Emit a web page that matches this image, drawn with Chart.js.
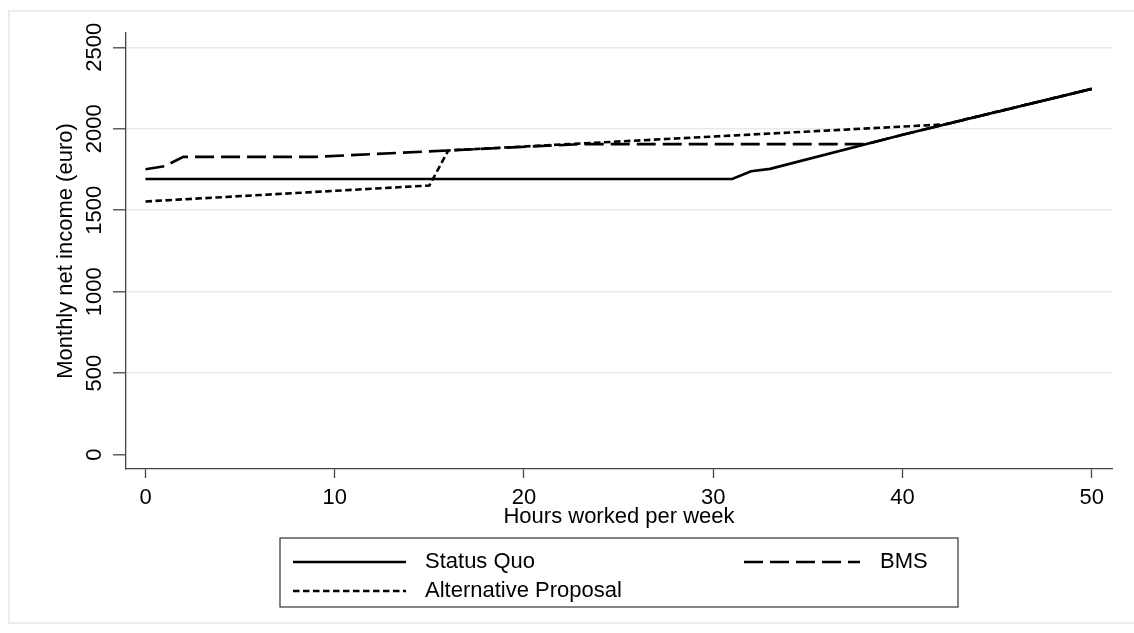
<!DOCTYPE html>
<html lang="en">
<head>
    <meta charset="UTF-8">
    <title>Monthly net income by hours worked</title>
    <script src="https://cdn.jsdelivr.net/npm/chart.js"></script>
    <style>
        html, body { margin: 0; padding: 0; background: #fff; overflow: hidden; }
        #wrap { position: relative; width: 1134px; height: 633px; }
        #frame { position: absolute; left: 8px; top: 10px; width: 1140px; height: 614px;
                 border: 2px solid #ececec; box-sizing: border-box; pointer-events: none; }
        canvas { position: absolute; left: 0; top: 0; }
    </style>
</head>
<body>
<div id="wrap">
    <div id="frame"></div>
    <canvas id="incomeChart" width="1134" height="633"></canvas>
</div>

<script>
    // Data (breakpoints of each piecewise-linear line)
    const sqHours   = [0, 31, 32, 33, 40, 50];
    const sqIncome  = [1692, 1692, 1739, 1754, 1963, 2245];

    const bmsHours  = [0, 1, 2, 9, 16, 23, 38.1, 40, 50];
    const bmsIncome = [1752, 1770, 1828, 1828, 1867, 1906, 1906, 1963, 2245];

    const altHours  = [0, 15, 16, 42.2, 50];
    const altIncome = [1554, 1652, 1867, 2027, 2245];

    const seriesNames = ["Status Quo", "BMS", "Alternative Proposal"];
    const xTicks = [0, 10, 20, 30, 40, 50];
    const yTicks = [0, 500, 1000, 1500, 2000, 2500];

    const toPoints = (xs, ys) => xs.map((x, i) => ({ x: x, y: ys[i] }));

    const FONT = "'Liberation Sans', Arial, Helvetica, sans-serif";
    Chart.defaults.font.family = FONT;
    Chart.defaults.font.size = 22;
    Chart.defaults.color = "#000";

    // Stata-style boxed legend, two columns
    const boxLegend = {
        id: "boxLegend",
        afterDraw(chart) {
            const c = chart.ctx;
            const ds = chart.data.datasets;
            const box = { left: 280, top: 538, right: 958, bottom: 607 };
            const slots = [
                { x0: 293, x1: 406, tx: 425, y: 562 },
                { x0: 744, x1: 860, tx: 880, y: 562 },
                { x0: 293, x1: 406, tx: 425, y: 591 }
            ];
            c.save();
            c.strokeStyle = "#333";
            c.lineWidth = 1.2;
            c.strokeRect(box.left, box.top, box.right - box.left, box.bottom - box.top);
            c.font = "22px " + FONT;
            c.fillStyle = "#000";
            c.textBaseline = "middle";
            ds.forEach((d, i) => {
                const s = slots[i];
                c.beginPath();
                c.setLineDash(d.borderDash || []);
                c.lineWidth = d.borderWidth;
                c.strokeStyle = d.borderColor;
                c.moveTo(s.x0, s.y);
                c.lineTo(s.x1, s.y);
                c.stroke();
                c.setLineDash([]);
                c.fillText(d.label, s.tx, s.y);
            });
            c.restore();
        }
    };

    const ctx = document.getElementById("incomeChart").getContext("2d");

    new Chart(ctx, {
        type: "line",
        data: {
            datasets: [
                {
                    label: seriesNames[0],
                    data: toPoints(sqHours, sqIncome),
                    borderColor: "#000",
                    borderWidth: 2.6
                },
                {
                    label: seriesNames[1],
                    data: toPoints(bmsHours, bmsIncome),
                    borderColor: "#000",
                    borderWidth: 2.6,
                    borderDash: [19, 7]
                },
                {
                    label: seriesNames[2],
                    data: toPoints(altHours, altIncome),
                    borderColor: "#000",
                    borderWidth: 2.6,
                    borderDash: [6.5, 3.5]
                }
            ]
        },
        options: {
            responsive: false,
            animation: false,
            devicePixelRatio: 1,
            elements: {
                point: { radius: 0 },
                line: { tension: 0, fill: false, borderCapStyle: "butt" }
            },
            layout: { padding: { left: 0, top: 33, right: 22, bottom: 103 } },
            plugins: {
                legend: { display: false },
                tooltip: { enabled: false }
            },
            scales: {
                x: {
                    type: "linear",
                    min: -1.03,
                    max: 51.07,
                    afterBuildTicks: s => { s.ticks = xTicks.map(v => ({ value: v })); },
                    afterFit: s => { s.height = 61; },
                    border: { display: true, color: "#444", width: 1.3 },
                    grid: { drawOnChartArea: false, tickLength: 9, tickColor: "#444", tickWidth: 1.3 },
                    ticks: { padding: 7, maxRotation: 0, minRotation: 0, color: "#000",
                             callback: v => String(v) },
                    title: {
                        display: true,
                        text: "Hours worked per week",
                        color: "#000",
                        padding: { top: 0, bottom: 0 }
                    }
                },
                y: {
                    type: "linear",
                    min: -88,
                    max: 2588,
                    afterBuildTicks: s => { s.ticks = yTicks.map(v => ({ value: v })); },
                    afterFit: s => { s.width = 126; },
                    border: { display: true, color: "#444", width: 1.3 },
                    grid: {
                        color: c => (c.tick && c.tick.value === 0) ? "rgba(0,0,0,0)" : "#e9e9e9",
                        lineWidth: 1.6,
                        tickLength: 13,
                        tickColor: "#444",
                        tickWidth: 1.3
                    },
                    ticks: {
                        minRotation: 90,
                        maxRotation: 90,
                        crossAlign: "center",
                        padding: -6,
                        color: "#000",
                        callback: v => String(v)
                    },
                    title: {
                        display: true,
                        text: "Monthly net income (euro)",
                        color: "#000",
                        padding: { top: 53, bottom: 0 }
                    }
                }
            }
        },
        plugins: [boxLegend]
    });
</script>
</body>
</html>
